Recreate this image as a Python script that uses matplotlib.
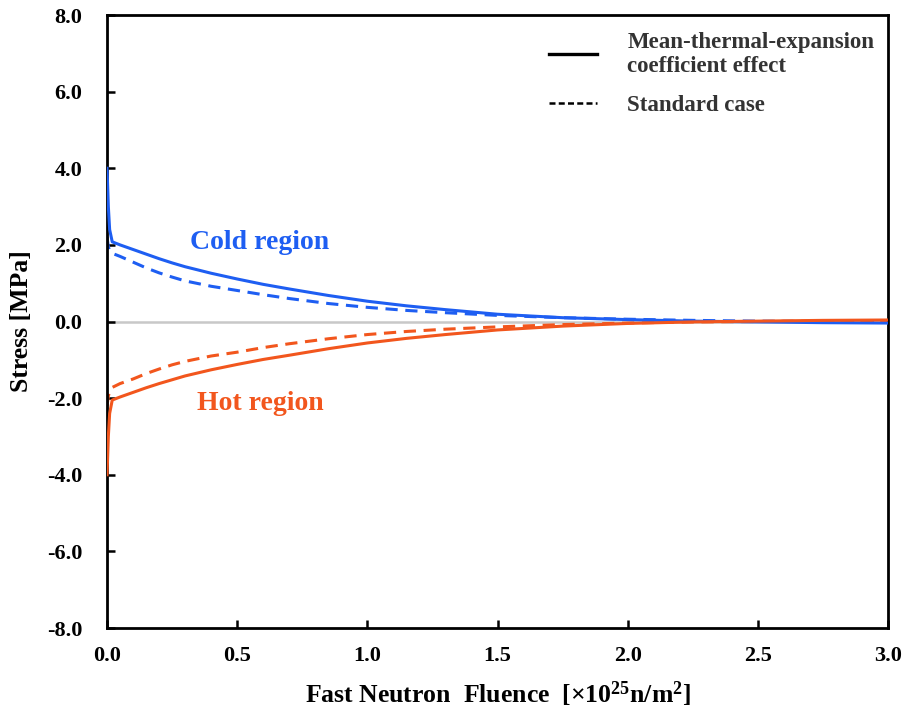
import numpy as np
import matplotlib
matplotlib.use("Agg")
import matplotlib.pyplot as plt
from matplotlib.lines import Line2D

plt.rcParams['font.family'] = ['Liberation Serif', 'DejaVu Serif']
plt.rcParams['font.weight'] = 'bold'
plt.rcParams['mathtext.fontset'] = 'custom'
plt.rcParams['mathtext.bf'] = 'Liberation Serif:bold'
plt.rcParams['mathtext.rm'] = 'Liberation Serif:bold'
plt.rcParams['mathtext.default'] = 'bf'

# fluence [x10^25 n/m^2]
fluence = [0, 0.005, 0.01, 0.02, 0.05, 0.1, 0.15, 0.2, 0.25, 0.3, 0.4, 0.5,
           0.6, 0.7, 0.85, 1.0, 1.15, 1.3, 1.5, 1.75, 2.0, 2.25, 2.5, 2.75, 3.0]

# stress [MPa]
cold_mte = [4.0, 3.0, 2.4, 2.08, 2.0, 1.88, 1.76, 1.64, 1.53, 1.43, 1.26, 1.11,
            0.97, 0.85, 0.68, 0.53, 0.41, 0.31, 0.19, 0.1, 0.05, 0.01, -0.01, -0.03, -0.04]
cold_std = [2.2, 1.95, 1.85, 1.78, 1.7, 1.55, 1.4, 1.27, 1.16, 1.06, 0.92, 0.81,
            0.7, 0.6, 0.47, 0.37, 0.29, 0.23, 0.16, 0.1, 0.06, 0.03, 0.01, 0.0, 0.0]
hot_mte = [-4.0, -3.0, -2.4, -2.05, -1.97, -1.85, -1.73, -1.62, -1.52, -1.42, -1.26, -1.12,
           -0.99, -0.88, -0.71, -0.56, -0.44, -0.34, -0.22, -0.12, -0.05, -0.01, 0.01, 0.03, 0.04]
hot_std = [-2.2, -1.95, -1.82, -1.72, -1.62, -1.5, -1.36, -1.24, -1.13, -1.04, -0.9, -0.8,
           -0.68, -0.58, -0.45, -0.34, -0.26, -0.2, -0.14, -0.08, -0.04, -0.01, 0.0, 0.01, 0.02]

blue = '#1E5EF2'
orange = '#F2561D'

fig = plt.figure(figsize=(9.04, 7.18), dpi=100)
ax = fig.add_axes([0.1184, 0.1253, 0.8639, 0.8538])

ax.axhline(0, color='#c8c8c8', lw=1.8, zorder=1)

ax.plot(fluence, cold_std, color=blue, lw=2.2, ls=(0, (4, 2.5)), zorder=2)
ax.plot(fluence, cold_mte, color=blue, lw=2.2, zorder=3)
ax.plot(fluence, hot_std, color=orange, lw=2.2, ls=(0, (4, 2.5)), zorder=2)
ax.plot(fluence, hot_mte, color=orange, lw=2.2, zorder=3)

ax.text(0.32, 2.06, 'Cold region', color=blue, fontsize=20, fontweight='bold',
        ha='left', va='center')
ax.text(0.345, -2.14, 'Hot region', color=orange, fontsize=20, fontweight='bold',
        ha='left', va='center')

ax.set_xlim(0, 3.0)
ax.set_ylim(-8.0, 8.0)
ax.set_xticks(np.arange(0, 3.01, 0.5))
ax.set_yticks(np.arange(-8, 8.01, 2))
ax.xaxis.set_major_formatter(plt.FormatStrFormatter('%.1f'))
ax.yaxis.set_major_formatter(plt.FormatStrFormatter('%.1f'))
ax.tick_params(direction='in', length=6, width=1.8, labelsize=16, colors='black')
ax.tick_params(axis='y', pad=18)
ax.tick_params(axis='x', pad=13)
for lab in ax.get_xticklabels() + ax.get_yticklabels():
    lab.set_fontweight('bold')
for sp in ax.spines.values():
    sp.set_linewidth(2.0)

ax.set_ylabel('Stress [MPa]', fontsize=18.5, fontweight='bold', labelpad=10)
ax.set_xlabel(r'Fast Neutron  Fluence  [×10$^{25}$n/m$^{2}$]', fontsize=18.5,
              fontweight='bold', labelpad=10)

handles = [Line2D([], [], color='black', lw=2.4),
           Line2D([], [], color='black', lw=1.8, ls=(0, (2.4, 1.3)))]
labels = ['Mean-thermal-expansion\ncoefficient effect', 'Standard case']
leg = ax.legend(handles, labels, loc='upper right', frameon=False, fontsize=16.5,
                handlelength=2.1, handletextpad=1.3, labelspacing=0.8,
                borderaxespad=0.2, bbox_to_anchor=(1.0, 0.995))
for t in leg.get_texts():
    t.set_color('#333333')
    t.set_fontweight('bold')

fig.savefig('out.png', dpi=100)
